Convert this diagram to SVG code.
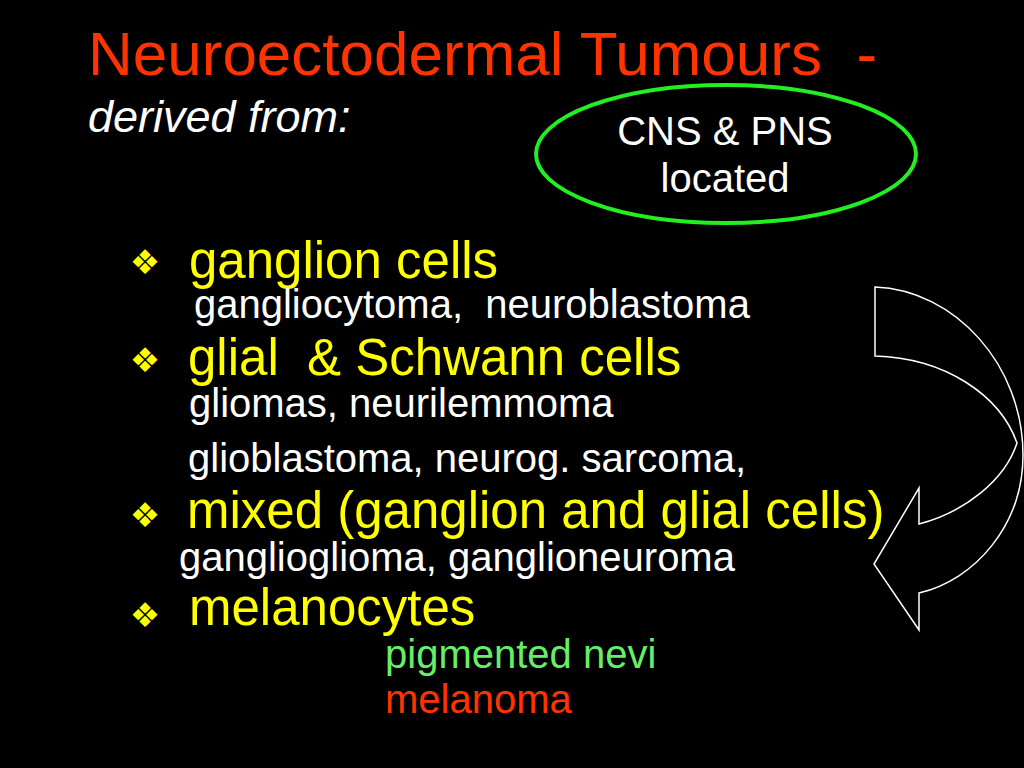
<svg xmlns="http://www.w3.org/2000/svg" width="1024" height="768" viewBox="0 0 1024 768" xml:space="preserve">
<style>
text{font-family:"Liberation Sans",Arial,sans-serif;white-space:pre}
.title{fill:#FF3300;font-size:62px}
.sub{fill:#FFFFFF;font-size:45px;font-style:italic}
.y{fill:#FFFF00;font-size:51px}
.w{fill:#FFFFFF;font-size:40px}
.g{fill:#66EE66;font-size:40px}
.r{fill:#FF3300;font-size:40px}
.b{fill:#FFFF00;font-size:34px;font-family:"DejaVu Sans",sans-serif;text-anchor:middle}
</style>
<rect width="1024" height="768" fill="#000000"/>
<g id="title">
<text class="title" x="88" y="75">Neuroectodermal Tumours  -</text>
<text class="sub" x="88" y="132">derived from:</text>
</g>
<g id="cns-pns">
<ellipse cx="726" cy="154" rx="190" ry="69" fill="none" stroke="#22EE22" stroke-width="4"/>
<text class="w" x="725" y="145" text-anchor="middle">CNS &amp; PNS</text>
<text class="w" x="725" y="192" text-anchor="middle">located</text>
</g>
<g id="ganglion">
<text class="b" x="145" y="274">❖</text>
<text class="y" x="189" y="278">ganglion cells</text>
<text class="w" x="194" y="318">gangliocytoma,  neuroblastoma</text>
</g>
<g id="glial">
<text class="b" x="145" y="372">❖</text>
<text class="y" x="188" y="375">glial  &amp; Schwann cells</text>
<text class="w" x="189" y="417">gliomas, neurilemmoma</text>
<text class="w" x="188" y="472">glioblastoma, neurog. sarcoma,</text>
</g>
<g id="mixed">
<text class="b" x="145" y="527">❖</text>
<text class="y" x="187" y="528">mixed (ganglion and glial cells)</text>
<text class="w" x="179" y="571">ganglioglioma, ganglioneuroma</text>
</g>
<g id="melanocytes">
<text class="b" x="145" y="627">❖</text>
<text class="y" x="189" y="625">melanocytes</text>
<text class="g" x="385" y="668">pigmented nevi</text>
<text class="r" x="385" y="713">melanoma</text>
</g>
<g id="connectors">
<path d="M875,287 C955,290 1023,365 1023,455 C1023,525 975,580 919,593 L919,630 L874,564 L919,488 L919,524 C965,512 1005,480 1017,443 C1000,395 945,358 875,356 Z" fill="none" stroke="#FFFFFF" stroke-width="1.5"/>
</g>
</svg>
